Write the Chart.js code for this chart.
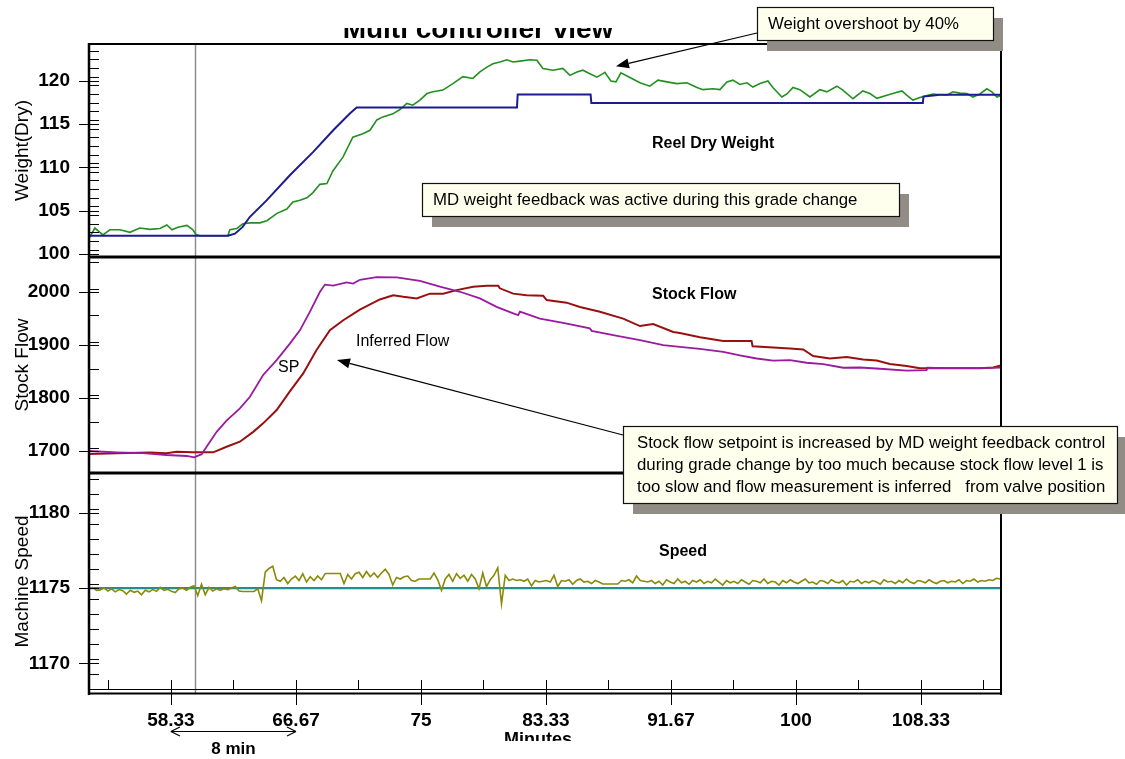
<!DOCTYPE html>
<html>
<head>
<meta charset="utf-8">
<script src="https://cdn.jsdelivr.net/npm/chart.js@4.4.1/dist/chart.umd.min.js"></script>
<style>
  html, body { margin: 0; padding: 0; background: #ffffff; }
  #wrap { position: relative; width: 1125px; height: 759px; overflow: hidden; }
  canvas { display: block; }
</style>
</head>
<body>
<div id="wrap"><canvas id="mcv" width="1125" height="759"></canvas></div>
<script>
const FONT = "'Liberation Sans', Arial, Helvetica, sans-serif";

// axis tick values
const minuteTicks = [58.33, 66.67, 75, 83.33, 91.67, 100, 108.33];
const weightTicks = [100, 105, 110, 115, 120];
const flowTicks = [1700, 1800, 1900, 2000];
const speedTicks = [1170, 1175, 1180];

// reel dry weight (measured), minutes / weight
const weightTime = [
  52.87, 53.26, 53.6, 53.8, 54.26, 54.93, 55.6, 56.26, 56.93, 57.6,
  58.06, 58.4, 58.8, 59.4, 59.8, 60.0, 60.26, 62.13, 62.26, 62.73,
  63.13, 63.6, 64.26, 64.73, 65.4, 66.06, 66.46, 66.93, 67.4, 67.8,
  68.26, 68.73, 69.13, 69.8, 70.46, 71.13, 71.6, 72.06, 72.46, 73.13,
  73.6, 74.06, 74.46, 74.93, 75.4, 75.8, 76.46, 77.13, 77.8, 78.46,
  78.93, 79.4, 79.8, 80.26, 80.73, 81.13, 81.6, 82.26, 82.73, 83.13,
  83.8, 84.46, 84.93, 85.4, 85.8, 86.26, 86.73, 87.13, 87.26, 87.66,
  88.0, 88.33, 88.93, 89.6, 90.26, 90.8, 91.4, 92.06, 92.73, 93.4,
  93.8, 94.46, 94.93, 95.4, 95.8, 96.26, 96.73, 97.13, 97.6, 98.13,
  98.46, 99.06, 99.4, 99.8, 100.26, 100.93, 101.6, 102.06, 102.73, 103.13,
  103.8, 104.46, 104.93, 105.4, 106.06, 106.46, 107.06, 107.4, 107.8, 108.26,
  108.6, 109.13, 110.06, 110.46, 110.93, 111.4, 111.8, 112.26, 112.73, 113.06,
  113.4, 113.67
];
const weightDry = [
  101.8, 103.0, 102.5, 102.2, 102.8, 102.8, 102.5, 103.0, 102.85, 102.95,
  103.35, 102.8, 103.1, 103.3, 102.8, 102.25, 102.1, 102.1, 102.8, 102.95,
  103.5, 103.6, 103.6, 103.85, 104.7, 105.2, 106.0, 106.2, 106.5, 107.1,
  108.05, 108.15, 109.6, 111.2, 113.5, 113.9, 114.3, 115.5, 115.85, 116.2,
  116.7, 117.4, 117.2, 117.8, 118.55, 118.75, 118.95, 119.7, 120.5, 120.3,
  121.05, 121.6, 122.0, 122.2, 122.45, 122.2, 122.3, 122.45, 122.4, 121.45,
  121.25, 121.45, 120.65, 121.05, 121.25, 120.85, 120.45, 120.85, 121.0, 120.0,
  119.9, 120.95, 120.4, 119.8, 119.4, 120.1, 119.9, 119.7, 119.8, 119.25,
  119.0, 119.1, 119.0, 119.9, 120.1, 119.6, 119.8, 119.3, 119.7, 120.0,
  119.25, 118.15, 118.5, 119.25, 119.0, 118.15, 119.0, 118.75, 119.4, 118.95,
  117.95, 118.85, 118.55, 118.0, 118.35, 118.55, 118.85, 118.35, 117.8, 118.1,
  118.25, 118.5, 118.35, 118.75, 118.6, 118.55, 118.15, 118.5, 119.1, 118.75,
  118.15, 118.35
];

// dry weight setpoint
const weightSpTime = [52.87, 62.13, 62.6, 63.1, 63.6, 64.71, 66.26, 67.82, 69.15, 70.26,
  70.71, 81.4, 81.45, 86.31, 86.36, 108.46, 108.5, 109.0, 109.6, 113.67];
const weightSp = [102.1, 102.1, 102.35, 103.1, 104.3, 106.2, 109.1, 111.8, 114.3, 116.25,
  116.94, 116.94, 118.44, 118.44, 117.45, 117.45, 118.2, 118.3, 118.4, 118.4];

// stock flow setpoint (SP)
const flowSpTime = [
  52.87, 54.71, 56.48, 58.04, 59.38, 59.88, 60.38, 60.71, 61.38, 62.04,
  62.93, 63.6, 64.48, 65.38, 66.26, 66.93, 67.6, 68.26, 68.6, 69.15,
  70.04, 70.48, 70.93, 72.04, 73.38, 74.93, 76.26, 77.6, 78.93, 80.04,
  81.15, 81.48, 81.6, 82.93, 84.48, 86.26, 86.38, 87.82, 89.6, 91.15,
  92.26, 93.6, 95.15, 96.26, 97.38, 98.48, 99.6, 100.71, 101.82, 103.15,
  104.26, 105.6, 107.38, 108.71, 108.76, 110.04, 112.26, 113.67
];
const flowSp = [
  1700, 1697.5, 1696, 1692.5, 1690.6, 1688, 1694, 1708, 1736, 1757,
  1780, 1802, 1843, 1871, 1902, 1927, 1962, 1999, 2013, 2011,
  2017, 2015, 2022, 2027, 2026.5, 2020, 2009, 1999.5, 1987, 1971,
  1959, 1955.6, 1962, 1949, 1941, 1930.6, 1926, 1918, 1908.6, 1899,
  1896, 1892, 1886.6, 1880, 1874, 1870, 1871, 1866, 1863.5, 1856.6,
  1857, 1854.7, 1851, 1852, 1856.6, 1856, 1856, 1857
];

// inferred stock flow
const flowTime = [
  52.87, 54.71, 56.93, 58.04, 58.71, 59.82, 61.15, 62.04, 62.93, 63.82,
  64.48, 65.38, 66.26, 67.15, 68.04, 68.93, 69.82, 70.93, 72.26, 73.15,
  73.82, 74.71, 75.6, 76.48, 77.38, 78.48, 79.38, 80.15, 80.26, 81.15,
  82.04, 83.15, 83.38, 84.71, 85.6, 86.93, 88.48, 89.6, 90.48, 91.82,
  92.26, 93.6, 95.15, 97.04, 97.11, 99.6, 100.48, 101.15, 102.26, 103.38,
  104.48, 105.38, 106.26, 107.38, 108.26, 110.04, 112.26, 113.15, 113.67
];
const flowInferred = [
  1694.4, 1695.6, 1697, 1695.6, 1698.7, 1697.5, 1697.5, 1708, 1717.5, 1736,
  1752, 1777, 1812, 1846, 1890, 1927, 1946, 1966, 1985, 1993,
  1990, 1987, 1996, 1996, 2002.6, 2009, 2011, 2011, 2006, 1996,
  1993, 1992, 1984, 1979, 1971, 1962, 1949, 1935, 1938.7, 1924,
  1922, 1914, 1907, 1907, 1897, 1893, 1891, 1878.6, 1874, 1877,
  1872, 1870, 1863.5, 1860, 1855.5, 1855.5, 1855.5, 1857, 1861
];

// machine speed, one sample every 15 s from the start of the window
const speedStart = 52.87;
const speedStepMin = 0.25;
const machineSpeed = [
  1174.95, 1175.05, 1174.85, 1174.88, 1175.02, 1174.8, 1174.95, 1174.75, 1174.9, 1174.82,
  1174.6, 1174.85, 1174.72, 1174.8, 1174.55, 1174.85, 1174.75, 1174.9, 1174.78, 1175.05,
  1174.85, 1174.92, 1174.78, 1174.7, 1174.95, 1175.0, 1174.85, 1175.05, 1175.15, 1174.5,
  1175.25, 1174.55, 1175.05, 1174.8, 1174.95, 1174.85, 1174.95, 1174.9, 1175.0, 1175.1,
  1174.8, 1174.77, 1174.77, 1174.77, 1174.77, 1174.95, 1174.16, 1176.05, 1176.3, 1176.45,
  1175.55, 1175.45, 1175.7, 1175.3, 1175.6, 1175.8, 1175.5, 1175.95, 1175.4, 1175.75,
  1175.5, 1175.8, 1175.55, 1175.97, 1175.97, 1175.97, 1175.97, 1175.97, 1175.3, 1175.9,
  1175.6, 1175.95, 1176.05, 1175.7, 1176.1, 1175.75, 1176.0, 1175.7, 1176.0, 1176.25,
  1175.9, 1175.2, 1175.7, 1175.6, 1175.75, 1175.8, 1175.5, 1175.45, 1175.6, 1175.6,
  1175.6, 1175.6, 1176.0, 1175.55, 1174.85, 1175.6, 1175.9, 1175.45, 1175.95, 1175.65,
  1175.85, 1175.45, 1175.9, 1175.6, 1174.95, 1176.0, 1175.1, 1175.55, 1175.85, 1176.35,
  1173.95, 1175.85, 1175.5, 1175.6, 1175.5, 1175.55, 1175.45, 1175.6, 1175.15, 1175.5,
  1175.4, 1175.45, 1175.5, 1175.4, 1175.85, 1175.1, 1175.5, 1175.45, 1175.55, 1175.25,
  1175.5, 1175.6, 1175.4, 1175.45, 1175.3, 1175.5, 1175.4, 1175.27, 1175.27, 1175.27,
  1175.27, 1175.27, 1175.5, 1175.45, 1175.55, 1175.35, 1175.8, 1175.5, 1175.45, 1175.4,
  1175.5, 1175.3, 1175.45, 1175.2, 1175.55, 1175.4, 1175.3, 1175.6, 1175.35, 1175.45,
  1175.25, 1175.5, 1175.4, 1175.55, 1175.3, 1175.45, 1175.35, 1175.6, 1175.4, 1175.2,
  1175.5, 1175.35, 1175.45, 1175.3, 1175.55, 1175.4, 1175.25, 1175.5, 1175.45, 1175.35,
  1175.6, 1175.3, 1175.45, 1175.4, 1175.2, 1175.5, 1175.35, 1175.55, 1175.4, 1175.3,
  1175.45, 1175.6, 1175.35, 1175.4, 1175.25, 1175.5, 1175.45, 1175.3, 1175.55, 1175.4,
  1175.35, 1175.5, 1175.2, 1175.45, 1175.4, 1175.55, 1175.3, 1175.45, 1175.35, 1175.5,
  1175.4, 1175.25, 1175.55, 1175.4, 1175.45, 1175.3, 1175.5, 1175.35, 1175.6, 1175.4,
  1175.3, 1175.5, 1175.45, 1175.35, 1175.55, 1175.4, 1175.3, 1175.45, 1175.5, 1175.35,
  1175.45, 1175.4, 1175.55, 1175.3, 1175.5, 1175.45, 1175.6, 1175.4, 1175.5, 1175.45,
  1175.55, 1175.5, 1175.65, 1175.6
];
// machine speed setpoint
const speedSpTime = [52.87, 113.67];
const speedSp = [1175, 1175];

// time cursor
const cursorMinute = 59.93;

const pairs = (xs, ys) => xs.map((x, i) => ({ x: x, y: ys[i] }));
const speedPoints = machineSpeed.map((v, i) => ({ x: speedStart + i * speedStepMin, y: v }));

// minor tick layout per axis: [first value, spacing]
const minorSpec = { x: [54.165, 8.333], yW: [100.5, 1], yF: [1705, 50], yS: [1168.27, 1] };

function tickAxis(values, extra) {
  const base = {
    type: 'linear',
    afterBuildTicks: s => { s.ticks = values.map(v => ({ value: v })); },
    grid: { display: false, drawTicks: false },
    border: { display: false },
    ticks: {
      color: '#000',
      font: { family: FONT, size: 19, weight: 'bold' },
      padding: 19,
      autoSkip: false,
      maxRotation: 0,
      minRotation: 0,
      callback: v => String(v)
    }
  };
  return Object.assign(base, extra);
}

function axisTitle(text) {
  return { display: true, text: text, color: '#000', font: { family: FONT, size: 19 }, padding: { top: 11.6, bottom: 0 } };
}

function minorValues(scale, spec) {
  const out = [];
  for (let v = spec[0]; v <= scale.max + 1e-9; v += spec[1]) if (v >= scale.min) out.push(v);
  return out;
}

function line(ctx, x0, y0, x1, y1, w, c) {
  ctx.beginPath();
  ctx.lineWidth = w;
  ctx.strokeStyle = c || '#000';
  ctx.moveTo(x0, y0);
  ctx.lineTo(x1, y1);
  ctx.stroke();
}

function drawArrow(ctx, x0, y0, x1, y1) {
  const a = Math.atan2(y1 - y0, x1 - x0);
  const len = 13, half = 5;
  const bx = x1 - Math.cos(a) * len, by = y1 - Math.sin(a) * len;
  line(ctx, x0, y0, bx, by, 1.2);
  ctx.beginPath();
  ctx.fillStyle = '#000';
  ctx.moveTo(x1, y1);
  ctx.lineTo(bx + Math.sin(a) * half, by - Math.cos(a) * half);
  ctx.lineTo(bx - Math.sin(a) * half, by + Math.cos(a) * half);
  ctx.closePath();
  ctx.fill();
}

function drawNote(ctx, r, lines, textX, lineYs) {
  ctx.fillStyle = '#928c86';
  ctx.fillRect(r.x + 10, r.y + 11, r.w, r.h);
  ctx.fillStyle = '#ffffee';
  ctx.fillRect(r.x, r.y, r.w, r.h);
  ctx.lineWidth = 1.2;
  ctx.strokeStyle = '#111';
  ctx.strokeRect(r.x + 0.5, r.y + 0.5, r.w, r.h);
  ctx.fillStyle = '#000';
  ctx.font = '16.8px ' + FONT;
  ctx.textAlign = 'left';
  ctx.textBaseline = 'middle';
  lines.forEach((t, i) => ctx.fillText(t, textX, lineYs[i]));
}

function clippedText(ctx, text, font, cx, baseY, clipTop, clipBottom) {
  ctx.save();
  ctx.beginPath();
  ctx.rect(0, clipTop, 1125, clipBottom - clipTop);
  ctx.clip();
  ctx.font = font;
  ctx.fillStyle = '#000';
  ctx.textAlign = 'center';
  ctx.textBaseline = 'alphabetic';
  ctx.fillText(text, cx, baseY);
  ctx.restore();
}

const framePlugin = {
  id: 'frame',
  beforeDatasetsDraw(chart) {
    const { ctx, chartArea: a, scales } = chart;
    const cx = Math.round(scales.x.getPixelForValue(cursorMinute)) + 0.5;
    ctx.save();
    line(ctx, cx, a.top, cx, a.bottom + 3, 1.5, '#8e8e8e');
    ctx.restore();
  },
  afterDatasetsDraw(chart) {
    const { ctx, chartArea: a, scales } = chart;
    ctx.save();
    // panel dividers
    line(ctx, a.left, scales.yW.bottom, a.right, scales.yW.bottom, 3);
    line(ctx, a.left, scales.yF.bottom, a.right, scales.yF.bottom, 3);
    // frame
    line(ctx, a.left - 1, a.top, a.right + 1, a.top, 2);
    line(ctx, a.left, a.top - 1, a.left, a.bottom + 5, 2.5);
    line(ctx, a.right, a.top - 1, a.right, a.bottom + 5, 2);
    line(ctx, a.left, a.bottom - 0.5, a.right, a.bottom - 0.5, 1.2);
    line(ctx, a.left, a.bottom + 3.5, a.right + 1, a.bottom + 3.5, 2.2);

    // y axis ticks
    ['yW', 'yF', 'yS'].forEach(id => {
      const s = scales[id];
      s.ticks.forEach(t => {
        const y = Math.round(s.getPixelForValue(t.value)) + 0.5;
        line(ctx, a.left - 10, y, a.left + 10, y, 1);
      });
      minorValues(s, minorSpec[id]).forEach(v => {
        const y = Math.round(s.getPixelForValue(v)) + 0.5;
        if (y > s.top + 2 && y < s.bottom - 2) line(ctx, a.left, y, a.left + 10, y, 1);
      });
    });
    // x axis ticks
    const xs = scales.x;
    xs.ticks.forEach(t => {
      const x = Math.round(xs.getPixelForValue(t.value)) + 0.5;
      line(ctx, x, a.bottom - 10, x, a.bottom + 15, 1);
    });
    minorValues(xs, minorSpec.x).forEach(v => {
      const x = Math.round(xs.getPixelForValue(v)) + 0.5;
      line(ctx, x, a.bottom - 10, x, a.bottom, 1);
    });

    // panel captions
    ctx.fillStyle = '#000';
    ctx.textBaseline = 'middle';
    ctx.textAlign = 'left';
    ctx.font = 'bold 16px ' + FONT;
    ctx.fillText('Reel Dry Weight', 652, 144);
    ctx.fillText('Stock Flow', 652, 295);
    ctx.fillText('Speed', 659, 552);
    ctx.font = '16px ' + FONT;
    ctx.fillText('Inferred Flow', 356, 342);
    ctx.fillText('SP', 278, 368);
    ctx.restore();
  },
  afterDraw(chart) {
    const { ctx, scales } = chart;
    ctx.save();
    // chart title and x axis title
    clippedText(ctx, 'Multi controller view', 'bold 28px ' + FONT, 478, 37.5, 28, 44);
    clippedText(ctx, 'Minutes', 'bold 18px ' + FONT, 538, 744.6, 725, 741);

    // 8 minute span under the axis
    const xa = scales.x.getPixelForValue(58.33), xb = scales.x.getPixelForValue(66.67);
    const ya = 731.5;
    line(ctx, xa, ya, xb, ya, 1.2);
    line(ctx, xa, ya, xa + 9, ya - 4.5, 1.2);
    line(ctx, xa, ya, xa + 9, ya + 4.5, 1.2);
    line(ctx, xb, ya, xb - 9, ya - 4.5, 1.2);
    line(ctx, xb, ya, xb - 9, ya + 4.5, 1.2);
    ctx.font = 'bold 17px ' + FONT;
    ctx.fillStyle = '#000';
    ctx.textAlign = 'center';
    ctx.textBaseline = 'middle';
    ctx.fillText('8 min', (xa + xb) / 2, 749);

    // callouts
    drawArrow(ctx, 757, 33, scales.x.getPixelForValue(88.0), scales.yW.getPixelForValue(121.7));
    drawArrow(ctx, 623, 435, scales.x.getPixelForValue(69.4), scales.yF.getPixelForValue(1871));
    drawNote(ctx, { x: 757, y: 7, w: 236, h: 33 }, ['Weight overshoot by 40%'], 768, [24]);
    drawNote(ctx, { x: 422, y: 183, w: 477, h: 33 },
      ['MD weight feedback was active during this grade change'], 433, [200]);
    drawNote(ctx, { x: 623, y: 426, w: 494, h: 77 }, [
      'Stock flow setpoint is increased by MD weight feedback control',
      'during grade change by too much because stock flow level 1 is',
      'too slow and flow measurement is inferred   from valve position'
    ], 637, [443.5, 465.5, 487.5]);
    ctx.restore();
  }
};

const lineStyle = (color, width) => ({
  borderColor: color, backgroundColor: color, borderWidth: width,
  pointRadius: 0, tension: 0, fill: false
});

new Chart(document.getElementById('mcv'), {
  type: 'line',
  data: {
    datasets: [
      Object.assign({ label: 'Dry weight SP', data: pairs(weightSpTime, weightSp), yAxisID: 'yW' }, lineStyle('#1c1c8e', 2)),
      Object.assign({ label: 'Reel dry weight', data: pairs(weightTime, weightDry), yAxisID: 'yW' }, lineStyle('#22901f', 1.6)),
      Object.assign({ label: 'SP', data: pairs(flowSpTime, flowSp), yAxisID: 'yF' }, lineStyle('#9b1a9f', 1.8)),
      Object.assign({ label: 'Inferred Flow', data: pairs(flowTime, flowInferred), yAxisID: 'yF' }, lineStyle('#9a1010', 2)),
      Object.assign({ label: 'Machine speed', data: speedPoints, yAxisID: 'yS' }, lineStyle('#8a8a08', 1.6)),
      Object.assign({ label: 'Speed SP', data: pairs(speedSpTime, speedSp), yAxisID: 'yS' }, lineStyle('#238e8e', 2.2))
    ]
  },
  options: {
    responsive: false,
    animation: false,
    devicePixelRatio: 1,
    layout: { padding: { top: 44, right: 124, bottom: 0, left: 0 } },
    plugins: { legend: { display: false }, tooltip: { enabled: false }, title: { display: false } },
    scales: {
      x: tickAxis(minuteTicks, {
        position: 'bottom', min: 52.87, max: 113.67,
        afterFit: s => { s.height = 69; }
      }),
      yW: tickAxis(weightTicks, {
        position: 'left', stack: 'panels', stackWeight: 213, weight: 3,
        min: 99.65, max: 124.28, title: axisTitle('Weight(Dry)'),
        afterFit: s => { s.width = 89; }
      }),
      yF: tickAxis(flowTicks, {
        position: 'left', stack: 'panels', stackWeight: 216, weight: 2,
        min: 1658.6, max: 2064.9, title: axisTitle('Stock Flow'),
        afterFit: s => { s.width = 89; }
      }),
      yS: tickAxis(speedTicks, {
        position: 'left', stack: 'panels', stackWeight: 217, weight: 1,
        min: 1168.23, max: 1182.64, title: axisTitle('Machine Speed'),
        afterFit: s => { s.width = 89; }
      })
    }
  },
  plugins: [framePlugin]
});
</script>
</body>
</html>
